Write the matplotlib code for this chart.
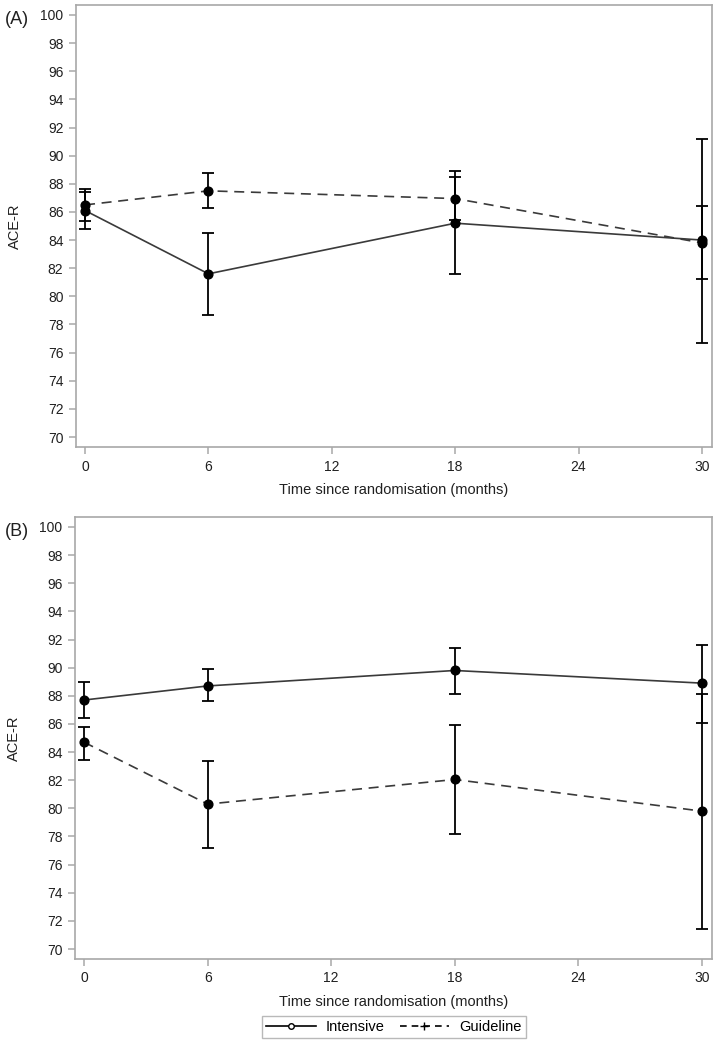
import numpy as np
import matplotlib.pyplot as plt
from matplotlib.lines import Line2D

plt.rcParams['font.family'] = ['Liberation Sans', 'DejaVu Sans']

months = [0, 6, 18, 30]
x_ticks = [0, 6, 12, 18, 24, 30]
y_ticks = list(range(70, 101, 2))

# panel A
a_int_mean = [86.1, 81.6, 85.2, 84.0]
a_int_low = [84.8, 78.7, 81.6, 76.7]
a_int_high = [87.4, 84.5, 88.9, 91.2]
a_gui_mean = [86.5, 87.5, 86.95, 83.8]
a_gui_low = [85.35, 86.3, 85.4, 81.2]
a_gui_high = [87.65, 88.75, 88.5, 86.4]

# panel B
b_int_mean = [87.7, 88.7, 89.8, 88.9]
b_int_low = [86.4, 87.6, 88.15, 86.1]
b_int_high = [89.0, 89.9, 91.4, 91.6]
b_gui_mean = [84.7, 80.3, 82.05, 79.8]
b_gui_low = [83.45, 77.2, 78.2, 71.45]
b_gui_high = [85.8, 83.35, 85.95, 88.15]

W, H = 722, 1045
fig = plt.figure(figsize=(W / 100, H / 100), dpi=100)

frame_col = '#a8a8a8'
line_col = '#3a3a3a'
text_col = '#202020'


def px_rect(left, top, right, bottom):
    return [left / W, 1 - bottom / H, (right - left) / W, (bottom - top) / H]


def draw_panel(box, label, im, il, ih, gm, gl, gh):
    ax = fig.add_axes(px_rect(*box))
    for mean, low, high, ls in [(im, il, ih, '-'), (gm, gl, gh, (0, (6, 4)))]:
        mean = np.array(mean)
        err = [mean - np.array(low), np.array(high) - mean]
        ax.errorbar(months, mean, yerr=err, fmt='none', ecolor='black',
                    elinewidth=1.3, capsize=4.5, capthick=1.3, zorder=2)
        ax.plot(months, mean, color=line_col, linestyle=ls, linewidth=1.2,
                zorder=3)
        ax.plot(months, mean, 'o', color='black', markersize=6.3, zorder=4)
    ax.set_xlim(-0.44, 30.49)
    ax.set_ylim(69.29, 100.71)
    ax.set_xticks(x_ticks)
    ax.set_yticks(y_ticks)
    for s in ax.spines.values():
        s.set_color(frame_col)
        s.set_linewidth(1.2)
    ax.tick_params(colors=frame_col, labelcolor=text_col, labelsize=10,
                   length=5, width=1.1, pad=4)
    ax.set_ylabel('ACE-R', fontsize=10.5, color=text_col, labelpad=13)
    ax.set_xlabel('Time since randomisation (months)', fontsize=10.5,
                  color=text_col, labelpad=7)
    fig.text(5 / W, 1 - (box[1] + 15) / H, label, fontsize=13,
             va='center', ha='left', color=text_col)
    return ax


draw_panel((76, 5, 712, 447), '(A)',
           a_int_mean, a_int_low, a_int_high, a_gui_mean, a_gui_low, a_gui_high)
draw_panel((75, 517, 712, 959), '(B)',
           b_int_mean, b_int_low, b_int_high, b_gui_mean, b_gui_low, b_gui_high)

handles = [
    Line2D([], [], color='black', linestyle='-', linewidth=1.2, marker='o',
           markersize=4, markerfacecolor='white', markeredgecolor='black'),
    Line2D([], [], color='black', linestyle=(0, (4, 3)), linewidth=1.2,
           marker='+', markersize=6),
]
leg = fig.legend(handles, ['Intensive', 'Guideline'], loc='center',
                 bbox_to_anchor=(394 / W, 1 - 1027 / H), ncol=2, fontsize=10.5,
                 frameon=True, fancybox=False, handlelength=3.4,
                 columnspacing=1.0, borderpad=0.3, handletextpad=0.7)
leg.get_frame().set_edgecolor(frame_col)
leg.get_frame().set_linewidth(1.0)

fig.savefig('out.png', dpi=100)
